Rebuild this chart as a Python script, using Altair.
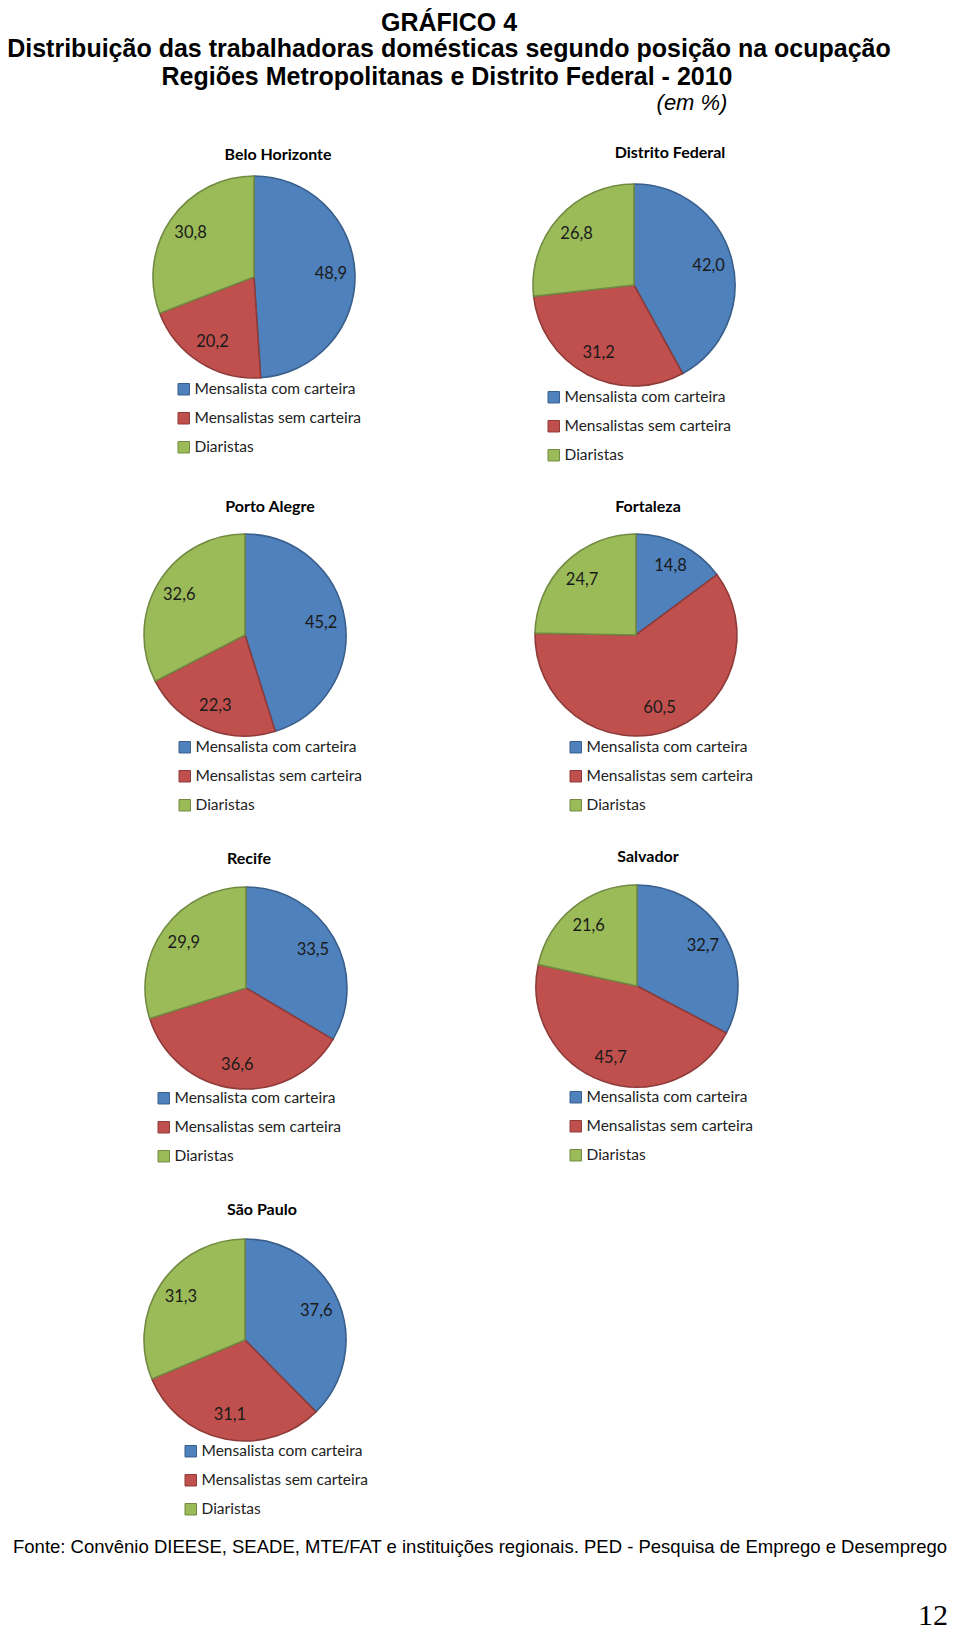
import altair as alt
import pandas as pd

# ---------------- data ----------------
regions = ["Belo Horizonte", "Distrito Federal", "Porto Alegre", "Fortaleza",
           "Recife", "Salvador", "São Paulo"]
categories = ["Mensalista com carteira", "Mensalistas sem carteira", "Diaristas"]
com_carteira = [48.9, 42.0, 45.2, 14.8, 33.5, 32.7, 37.6]
sem_carteira = [20.2, 31.2, 22.3, 60.5, 36.6, 45.7, 31.1]
diaristas = [30.8, 26.8, 32.6, 24.7, 29.9, 21.6, 31.3]

title_lines = ["GRÁFICO 4",
               "Distribuição das trabalhadoras domésticas segundo posição na ocupação",
               "Regiões Metropolitanas e Distrito Federal - 2010"]
unit_note = "(em %)"
source_note = ("Fonte: Convênio DIEESE, SEADE, MTE/FAT e instituições regionais. "
               "PED - Pesquisa de Emprego e Desemprego")
page_number = "12"

# ---------------- styles / layout ----------------
fill_colors = ["#4F81BD", "#C0504D", "#9BBB59"]
stroke_colors = ["#3A5F8B", "#8E3B39", "#728A42"]

# page coordinates: title centre, pie centre, legend (symbol left, first row centre)
layout = {
    "Belo Horizonte":  dict(tx=278, ty=155, cx=254, cy=277, lx=176, ly=390),
    "Distrito Federal": dict(tx=670, ty=153, cx=634, cy=285, lx=546, ly=398),
    "Porto Alegre":    dict(tx=270, ty=507, cx=245, cy=635, lx=177, ly=748),
    "Fortaleza":       dict(tx=648, ty=507, cx=636, cy=635, lx=568, ly=748),
    "Recife":          dict(tx=249, ty=859, cx=246, cy=988, lx=156, ly=1099),
    "Salvador":        dict(tx=648, ty=857, cx=637, cy=986, lx=568, ly=1098),
    "São Paulo":       dict(tx=262, ty=1210, cx=245, cy=1340, lx=183, ly=1452),
}
OFF = 8  # page margin
LABEL_FONT = "Lato"
HEAD_FONT = "Liberation Sans"

rows = []
for i, r in enumerate(regions):
    for j, (c, vals) in enumerate(zip(categories, [com_carteira, sem_carteira, diaristas])):
        v = vals[i]
        rows.append(dict(region=r, cat=c, ord=j, value=v,
                         label=f"{v:.1f}".replace(".", ",")))
df = pd.DataFrame(rows)


def text_layer(txt, x, y, **kw):
    return alt.Chart(pd.DataFrame({"t": [txt]})).mark_text(**kw).encode(
        text="t:N", x=alt.value(x - OFF), y=alt.value(y - OFF))


def region_chart(r):
    L = layout[r]
    d = df[df.region == r]
    base = alt.Chart(d).encode(
        theta=alt.Theta("value:Q", stack=True),
        order=alt.Order("ord:Q"),
        x=alt.value(L["cx"] - OFF),
        y=alt.value(L["cy"] - OFF),
    )
    leg = alt.Legend(title=None, orient="none",
                     legendX=L["lx"] - OFF, legendY=L["ly"] - OFF - 8.5,
                     symbolType="square", symbolSize=132, symbolStrokeWidth=1,
                     labelFont=LABEL_FONT, labelFontSize=15.5, labelColor="#222",
                     labelLimit=400, labelOffset=3, rowPadding=12, padding=0)
    arc = base.mark_arc(outerRadius=101, strokeWidth=1.6).encode(
        fill=alt.Fill("cat:N", sort=categories,
                      scale=alt.Scale(domain=categories, range=fill_colors), legend=leg),
        stroke=alt.Stroke("cat:N", sort=categories,
                          scale=alt.Scale(domain=categories, range=stroke_colors), legend=leg),
    )
    lbl = base.mark_text(radius=77, font=LABEL_FONT, fontSize=16.5, color="#1a1a1a").encode(
        text="label:N")
    ttl = text_layer(r, L["tx"], L["ty"], font=LABEL_FONT, fontWeight="bold",
                     fontSize=16, color="#000", baseline="middle", align="center")
    return alt.layer(arc, lbl, ttl)


pies = [region_chart(r) for r in regions]

header = [
    text_layer(title_lines[0], 449, 31, font=HEAD_FONT, fontWeight="bold", fontSize=25,
               baseline="alphabetic", align="center", color="#000"),
    text_layer(title_lines[1], 449, 57, font=HEAD_FONT, fontWeight="bold", fontSize=25,
               baseline="alphabetic", align="center", color="#000"),
    text_layer(title_lines[2], 447, 85, font=HEAD_FONT, fontWeight="bold", fontSize=25,
               baseline="alphabetic", align="center", color="#000"),
    text_layer(unit_note, 692, 110, font=HEAD_FONT, fontStyle="italic", fontSize=22,
               baseline="alphabetic", align="center", color="#000"),
    text_layer(source_note, 480, 1547, font=HEAD_FONT, fontSize=18.5,
               baseline="middle", align="center", color="#000"),
    text_layer(page_number, 948, 1616, font="Liberation Serif", fontSize=30,
               baseline="middle", align="right", color="#000"),
]

chart = alt.layer(*pies, *header).resolve_scale(
    theta="independent", fill="independent", stroke="independent"
).properties(
    width=944, height=1622, autosize=alt.AutoSizeParams(type="none"), padding=0,
    background="white",
).configure_view(stroke=None)

chart.save("out.html", embed_options={"renderer": "svg", "actions": False})
